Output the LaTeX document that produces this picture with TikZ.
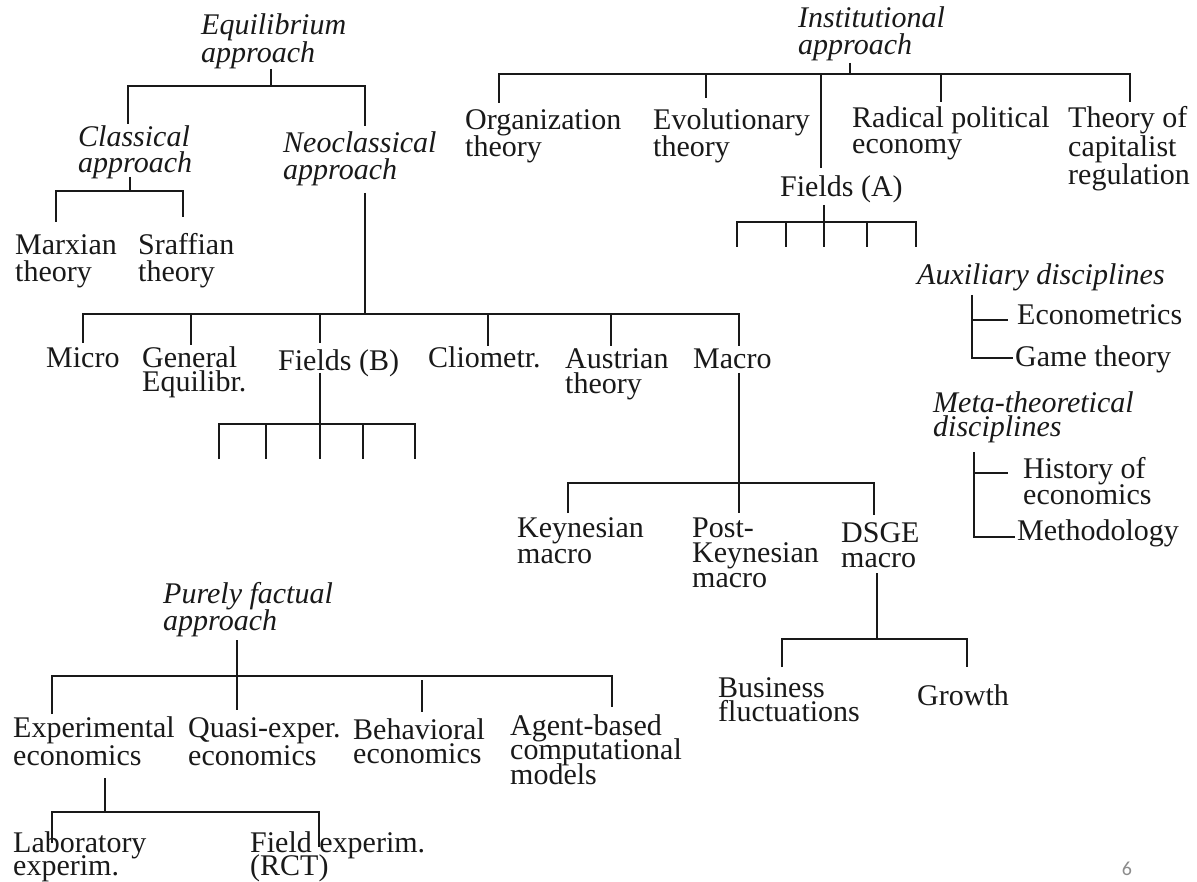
\documentclass[tikz,border=0pt]{standalone}
\usepackage{fontspec}
\usetikzlibrary{calc}
\setmainfont{Liberation Serif}
\newfontfamily\pnfont{Carlito}
% multi-line left-aligned label; baseline of the box is the first line
\newcommand\ml[2][27]{\vtop{\baselineskip=#1pt\lineskiplimit=-\maxdimen\lineskip=0pt\halign{##\hfil\cr#2\crcr}}}
\tikzset{
  lbl/.style={inner sep=0pt, anchor=base west, text=black!90,
              font=\fontsize{30}{27}\selectfont},
  itl/.style={lbl, font=\fontsize{30}{27}\selectfont\itshape},
  br/.style={line width=2.8pt, black!90, line cap=butt, line join=miter}
}
\begin{document}
\begin{tikzpicture}[x=1pt,y=-1pt]
\fill[white] (0,0) rectangle (1197,882);
\useasboundingbox (0,0) rectangle (1197,882);

% ---------------- Equilibrium approach ----------------
\node[itl] (eq) at (201,35) {\ml[28]{Equilibrium\cr approach}};
\node[itl] (cl) at (78,147) {\ml[26]{Classical\cr approach}};
\node[itl] (neo) at (283,153) {\ml{Neoclassical\cr approach}};
\node[lbl] (marx) at (15,255) {\ml{Marxian\cr theory}};
\node[lbl] (sraf) at (138,255) {\ml{Sraffian\cr theory}};

\coordinate (eqS) at (271,69);
\coordinate (eqB) at (271,86);
\coordinate (clT) at (128,124);
\coordinate (neT) at (365,126);
\draw[br] (eqS) -- (eqB);
\draw[br] (clT) -- (clT |- eqB) -- (neT |- eqB) -- (neT);

\coordinate (clS) at (130,177);
\coordinate (clB) at (130,191);
\coordinate (marxT) at (56,222);
\coordinate (srafT) at (183,217);
\draw[br] (clS) -- (clB);
\draw[br] (marxT) -- (marxT |- clB) -- (srafT |- clB) -- (srafT);

% neoclassical branches
\node[lbl] (micro) at (46,368) {Micro};
\node[lbl] (gen) at (142,368) {\ml[24]{General\cr Equilibr.}};
\node[lbl] (fb) at (278,371) {Fields (B)};
\node[lbl] (clio) at (428,368) {Cliometr.};
\node[lbl] (aus) at (565,369) {\ml[25]{Austrian\cr theory}};
\node[lbl] (mac) at (693,369) {Macro};

\coordinate (neS) at (365,193);
\coordinate (neB) at (365,314);
\coordinate (microT) at (83,343);
\coordinate (genT) at (191,345);
\coordinate (fbT) at (320,343);
\coordinate (clioT) at (488,346);
\coordinate (ausT) at (611,346);
\coordinate (macT) at (739,346);
\draw[br] (neS) -- (neB);
\draw[br] (microT) -- (microT |- neB) -- (macT |- neB) -- (macT);
\foreach \c in {genT,fbT,clioT,ausT}
  \draw[br] (\c |- neB) -- (\c);

% Fields (B)
\coordinate (fbS) at (320,373);
\coordinate (fbB) at (320,424);
\foreach \x/\n in {219/fb1,266/fb2,320/fb3,363/fb4,415/fb5}
  \coordinate (\n) at (\x,459);
\draw[br] (fbS) -- (fbB);
\draw[br] (fb1) -- (fb1 |- fbB) -- (fb5 |- fbB) -- (fb5);
\foreach \c in {fb2,fb3,fb4}
  \draw[br] (\c |- fbB) -- (\c);

% Macro
\node[lbl] (key) at (517,537) {\ml[26]{Keynesian\cr macro}};
\node[lbl] (pkey) at (692,537) {\ml[25]{Post-\cr Keynesian\cr macro}};
\node[lbl] (dsge) at (841,542) {\ml[25]{DSGE\cr macro}};
\coordinate (macS) at (739,373);
\coordinate (macB) at (739,483);
\coordinate (keyT) at (568,513);
\coordinate (pkeyT) at (739,513);
\coordinate (dsgeT) at (874,515);
\draw[br] (macS) -- (pkeyT);
\draw[br] (keyT) -- (keyT |- macB) -- (dsgeT |- macB) -- (dsgeT);

% DSGE
\node[lbl] (bus) at (718,697) {\ml[24]{Business\cr fluctuations}};
\node[lbl] (gro) at (917,705) {Growth};
\coordinate (dsS) at (877,573);
\coordinate (dsB) at (877,639);
\coordinate (busT) at (782,667);
\coordinate (groT) at (967,667);
\draw[br] (dsS) -- (dsB);
\draw[br] (busT) -- (busT |- dsB) -- (groT |- dsB) -- (groT);

% ---------------- Institutional approach ----------------
\node[itl] (inst) at (798,28) {\ml{Institutional\cr approach}};
\node[lbl] (org) at (465,130) {\ml{Organization\cr theory}};
\node[lbl] (evo) at (653,130) {\ml{Evolutionary\cr theory}};
\node[lbl] (rad) at (852,128) {\ml[26]{Radical political\cr economy}};
\node[lbl] (tcr) at (1068,128) {\ml[28.5]{Theory of\cr capitalist\cr regulation}};
\node[lbl] (fa) at (780,197) {Fields (A)};

\coordinate (inS) at (850,63);
\coordinate (inB) at (850,74);
\coordinate (orgT) at (499,103);
\coordinate (evoT) at (706,98);
\coordinate (faT) at (821,168);
\coordinate (radT) at (941,102);
\coordinate (tcrT) at (1130,102);
\draw[br] (inS) -- (inB);
\draw[br] (orgT) -- (orgT |- inB) -- (tcrT |- inB) -- (tcrT);
\foreach \c in {evoT,faT,radT}
  \draw[br] (\c |- inB) -- (\c);

% Fields (A)
\coordinate (faS) at (824,205);
\coordinate (faB) at (824,222);
\foreach \x/\n in {737/fa1,786/fa2,824/fa3,867/fa4,916/fa5}
  \coordinate (\n) at (\x,247);
\draw[br] (faS) -- (fa3);
\draw[br] (fa1) -- (fa1 |- faB) -- (fa5 |- faB) -- (fa5);
\foreach \c in {fa2,fa4}
  \draw[br] (\c |- faB) -- (\c);

% ---------------- Auxiliary and meta-theoretical disciplines ----------------
\node[itl] (aux) at (917,285) {Auxiliary disciplines};
\node[lbl] (ecm) at (1017,325) {Econometrics};
\node[lbl] (game) at (1015,367) {Game theory};
\coordinate (auxS) at (972,295);
\coordinate (auxE) at (1008,320);
\coordinate (auxG) at (1013,358);
\draw[br] (auxS) |- (auxG);
\draw[br] (auxS |- auxE) -- (auxE);

\node[itl] (meta) at (933,413) {\ml[24]{Meta-theoretical\cr disciplines}};
\node[lbl] (hist) at (1023,478) {\ml{History of\cr economics}};
\node[lbl] (meth) at (1017,540) {Methodology};
\coordinate (metS) at (974,452);
\coordinate (metH) at (1008,473);
\coordinate (metM) at (1015,537);
\draw[br] (metS) |- (metM);
\draw[br] (metS |- metH) -- (metH);

% ---------------- Purely factual approach ----------------
\node[itl] (pf) at (163,603) {\ml{Purely factual\cr approach}};
\node[lbl] (exp) at (13,737) {\ml[28]{Experimental\cr economics}};
\node[lbl] (qua) at (188,737) {\ml[28]{Quasi-exper.\cr economics}};
\node[lbl] (beh) at (353,739) {\ml[24]{Behavioral\cr economics}};
\node[lbl] (abm) at (510,735) {\ml[24.5]{Agent-based\cr computational\cr models}};

\coordinate (pfS) at (237,640);
\coordinate (pfB) at (237,676);
\coordinate (expT) at (52,714);
\coordinate (quaT) at (237,710);
\coordinate (behT) at (422,712);
\coordinate (abmT) at (612,707);
\draw[br] (pfS) -- (quaT);
\draw[br] (expT) -- (expT |- pfB) -- (abmT |- pfB) -- (abmT);
\draw[br] ($(behT |- pfB)+(0,4)$) -- (behT);

\node[lbl] (lab) at (13,852) {\ml[23]{Laboratory\cr experim.}};
\node[lbl] (fex) at (250,852) {\ml[23]{Field experim.\cr (RCT)}};
\coordinate (exS) at (105,778);
\coordinate (exB) at (105,812);
\coordinate (labT) at (52,843);
\coordinate (fexT) at (319,847);
\draw[br] (exS) -- (exB);
\draw[br] (labT) -- (labT |- exB) -- (fexT |- exB) -- (fexT);

% page number
\node[inner sep=0pt, text=black!45, font=\pnfont\fontsize{20}{20}\selectfont] (pg) at (1127,869) {6};
\end{tikzpicture}
\end{document}
